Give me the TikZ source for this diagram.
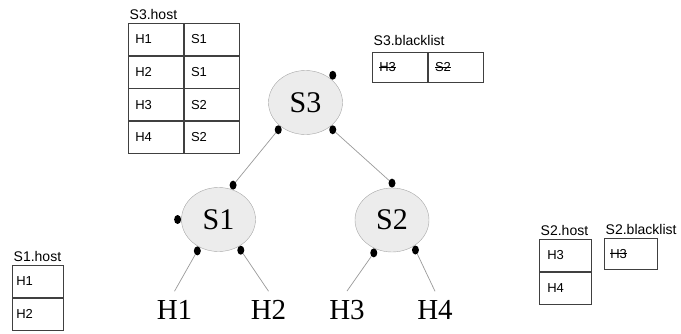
\documentclass[tikz,border=0pt]{standalone}
\usepackage{fontspec}
\setmainfont{Liberation Sans}
\newfontfamily\treefont{Liberation Serif}
\usetikzlibrary{shapes.geometric, positioning}

% struck-out entry
\newcommand{\struck}[1]{\setbox0\hbox{#1}\rlap{\rule[0.33em]{\wd0}{0.7pt}}\box0}

\tikzset{
  switch/.style={ellipse, draw=gray!70, fill=gray!15, minimum width=74pt, minimum height=64pt, inner sep=0pt, font=\treefont\fontsize{30}{36}\selectfont},
  host/.style={inner sep=9pt, font=\treefont\fontsize{29}{35}\selectfont},
  port/.style={ellipse, fill=black, minimum width=7pt, minimum height=9pt, inner sep=0pt},
  link/.style={draw=gray!80, line width=0.7pt},
  cell/.style={draw=black!75, line width=0.7pt, text width=#1, inner xsep=7pt, minimum height=32pt, align=left, font=\fontsize{13}{15}\selectfont},
  tname/.style={inner xsep=1.5pt, inner ysep=3pt, font=\fontsize{14}{16}\selectfont}
}

\begin{document}
\begin{tikzpicture}[x=1pt, y=-1pt]
\useasboundingbox (0,0) rectangle (681,333);

% switches
\node[switch] (S3) at (305.5,102.5) {S3};
\node[switch, on grid] (S1) [below left=117pt and 87pt of S3] {S1};
\node[switch, on grid] (S2) [below right=117.5pt and 86.5pt of S3] {S2};

% hosts
\node[host, on grid] (H1) [below left=90.5pt and 44pt of S1] {H1};
\node[host, on grid] (H2) [below right=90.5pt and 50pt of S1] {H2};
\node[host, on grid] (H3) [below left=90pt and 45pt of S2] {H3};
\node[host, on grid] (H4) [below right=90pt and 43pt of S2] {H4};

% ports
\node[port, anchor=225] (S3a) at (S3.45) {};
\node[port, anchor=45] (S3b) at (S3.225) {};
\node[port, anchor=135] (S3c) at (S3.315) {};
\node[port, anchor=247] (S1a) at (S1.67) {};
\node[port, anchor=0] (S1b) at (S1.180) {};
\node[port, anchor=56] (S1c) at (S1.236) {};
\node[port, anchor=126] (S1d) at (S1.306) {};
\node[port, anchor=270] (S2a) at (S2.90) {};
\node[port, anchor=61] (S2c) at (S2.241) {};
\node[port, anchor=128] (S2d) at (S2.308) {};

% links
\draw[link] (S3b) -- (S1a);
\draw[link] (S3c) -- (S2a);
\draw[link] (S1c) -- (H1.north);
\draw[link] (S1d) -- (H2.north);
\draw[link] (S2c) -- (H3.north);
\draw[link] (S2d) -- (H4.north);

% S3.host
\node[cell=41pt, anchor=north west] (s3h1a) at (128,23) {H1};
\node[cell=41pt, right=0pt of s3h1a] (s3h1b) {S1};
\node[cell=41pt, below=0pt of s3h1a] (s3h2a) {H2};
\node[cell=41pt, right=0pt of s3h2a] (s3h2b) {S1};
\node[cell=41pt, below=0pt of s3h2a] (s3h3a) {H3};
\node[cell=41pt, right=0pt of s3h3a] (s3h3b) {S2};
\node[cell=41pt, below=0pt of s3h3a] (s3h4a) {H4};
\node[cell=41pt, right=0pt of s3h4a] (s3h4b) {S2};
\node[tname, above right=0pt of s3h1a.north west] (s3hname) {S3.host};

% S3.blacklist
\node[cell=41pt, minimum height=30pt, anchor=north west] (s3b1a) at (372,52) {\struck{H3}};
\node[cell=41pt, minimum height=30pt, right=0pt of s3b1a] (s3b1b) {\struck{S2}};
\node[tname, above right=3.5pt and 0pt of s3b1a.north west] (s3bname) {S3.blacklist};

% S1.host
\node[cell=43pt, inner xsep=4pt, anchor=north west] (s1h1) at (12,265) {H1};
\node[cell=43pt, inner xsep=4pt, below=0pt of s1h1] (s1h2) {H2};
\node[tname, above right=0pt of s1h1.north west] (s1hname) {S1.host};

% S2.host
\node[cell=36pt, inner xsep=8pt, anchor=north west] (s2h1) at (539,239) {H3};
\node[cell=36pt, inner xsep=8pt, below=0pt of s2h1] (s2h2) {H4};
\node[tname, above right=0pt of s2h1.north west] (s2hname) {S2.host};

% S2.blacklist
\node[cell=41pt, inner xsep=6pt, minimum height=31pt, anchor=north west] (s2b1) at (604,238) {\struck{H3}};
\node[tname, above right=0pt of s2b1.north west] (s2bname) {S2.blacklist};
\end{tikzpicture}
\end{document}
